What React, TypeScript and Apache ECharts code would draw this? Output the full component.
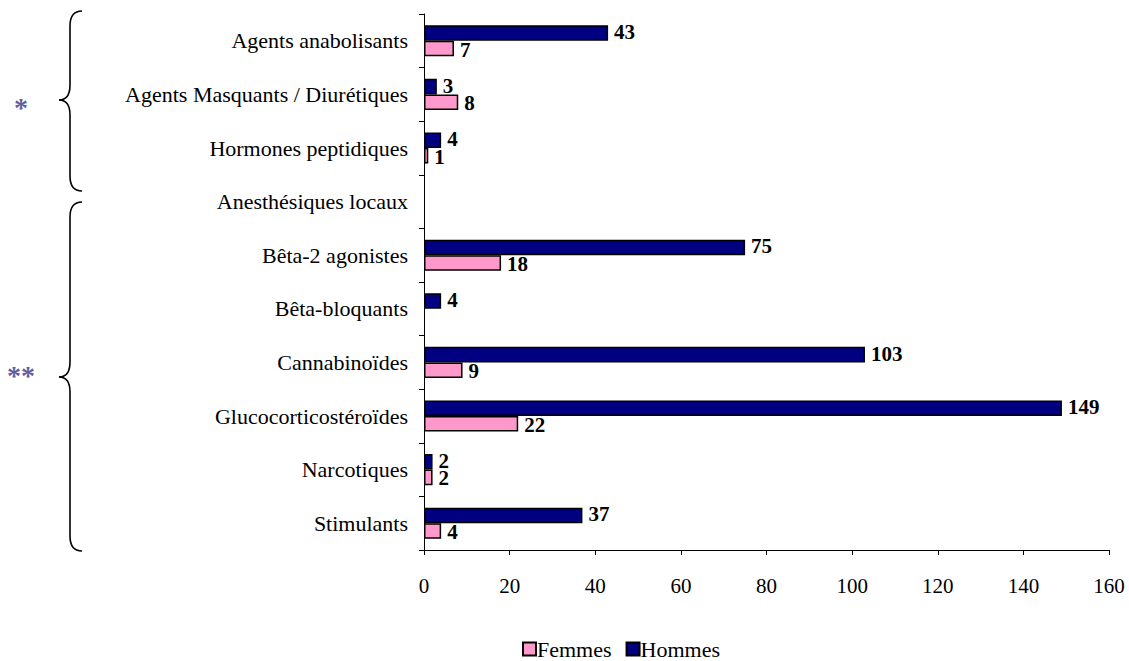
import React, { useEffect, useRef } from "react";
import * as echarts from "echarts";

const categories = [
  "Agents anabolisants",
  "Agents Masquants / Diurétiques",
  "Hormones peptidiques",
  "Anesthésiques locaux",
  "Bêta-2 agonistes",
  "Bêta-bloquants",
  "Cannabinoïdes",
  "Glucocorticostéroïdes",
  "Narcotiques",
  "Stimulants",
];
const hommes: (number | null)[] = [43, 3, 4, null, 75, 4, 103, 149, 2, 37];
const femmes: (number | null)[] = [7, 8, 1, null, 18, null, 9, 22, 2, 4];
const xTicks = { min: 0, max: 160, interval: 20 };

const FONT = "Liberation Serif";

function brace(top: number, tip: number, bottom: number) {
  const xe = 82, xm = 70, xt = 59;
  const st = { stroke: "#000", lineWidth: 1.6, fill: "none" };
  return [
    { type: "bezierCurve", shape: { x1: xe, y1: top, cpx1: 74, cpy1: top, cpx2: xm, cpy2: top + 5, x2: xm, y2: top + 15 }, style: st },
    { type: "line", shape: { x1: xm, y1: top + 15, x2: xm, y2: tip - 15 }, style: st },
    { type: "bezierCurve", shape: { x1: xm, y1: tip - 15, cpx1: xm, cpy1: tip - 4, cpx2: 66, cpy2: tip, x2: xt, y2: tip }, style: st },
    { type: "bezierCurve", shape: { x1: xt, y1: tip, cpx1: 66, cpy1: tip, cpx2: xm, cpy2: tip + 4, x2: xm, y2: tip + 15 }, style: st },
    { type: "line", shape: { x1: xm, y1: tip + 15, x2: xm, y2: bottom - 15 }, style: st },
    { type: "bezierCurve", shape: { x1: xm, y1: bottom - 15, cpx1: xm, cpy1: bottom - 5, cpx2: 74, cpy2: bottom, x2: xe, y2: bottom }, style: st },
  ];
}

export default function App() {
  const ref = useRef<HTMLDivElement>(null);
  useEffect(() => {
    if (!ref.current) return;
    const chart = echarts.init(ref.current, null, { renderer: "svg" });
    const labelStyle = {
      show: true,
      position: "right",
      distance: 6,
      fontFamily: FONT,
      fontWeight: "bold",
      fontSize: 21,
      color: "#000",
    };
    chart.setOption({
      animation: false,
      backgroundColor: "#fff",
      grid: { left: 424, right: 20, top: 14, bottom: 111 },
      xAxis: {
        type: "value",
        min: xTicks.min,
        max: xTicks.max,
        interval: xTicks.interval,
        splitLine: { show: false },
        axisLine: { show: true, lineStyle: { color: "#000", width: 1 } },
        axisTick: { show: true, length: 5, lineStyle: { color: "#000" } },
        axisLabel: { margin: 25, fontFamily: FONT, fontSize: 21, color: "#000" },
      },
      yAxis: {
        type: "category",
        inverse: true,
        data: categories,
        axisLine: { show: true, lineStyle: { color: "#000", width: 1 } },
        axisTick: { show: true, length: 5, lineStyle: { color: "#000" } },
        axisLabel: { margin: 16, fontFamily: FONT, fontSize: 22, color: "#000" },
      },
      legend: {
        data: ["Femmes", "Hommes"],
        left: 522,
        top: 638,
        padding: 0,
        itemWidth: 13,
        itemHeight: 13,
        itemGap: 14,
        icon: "rect",
        textStyle: { fontFamily: FONT, fontSize: 22, color: "#000", padding: [0, 0, 0, -4] },
      },
      series: [
        {
          name: "Hommes",
          type: "bar",
          data: hommes,
          barGap: "0%",
          barCategoryGap: "42%",
          itemStyle: { color: "#000080", borderColor: "#000", borderWidth: 1.5 },
          label: { ...labelStyle, offset: [0, -1] },
        },
        {
          name: "Femmes",
          type: "bar",
          data: femmes,
          barGap: "0%",
          barCategoryGap: "42%",
          itemStyle: { color: "#ff99cc", borderColor: "#000", borderWidth: 1.5 },
          label: { ...labelStyle, offset: [0, 1] },
        },
      ],
      graphic: [
        ...brace(11, 100, 191),
        ...brace(202, 377, 551),
        { type: "text", x: 14, y: 93, style: { text: "*", fontFamily: FONT, fontWeight: "bold", fontSize: 28, fill: "#5f5f9e" } },
        { type: "text", x: 7, y: 361, style: { text: "**", fontFamily: FONT, fontWeight: "bold", fontSize: 28, fill: "#5f5f9e" } },
      ],
    });
    return () => chart.dispose();
  }, []);
  return <div ref={ref} style={{ width: 1129, height: 661, position: "absolute", left: 0, top: 0 }} />;
}
